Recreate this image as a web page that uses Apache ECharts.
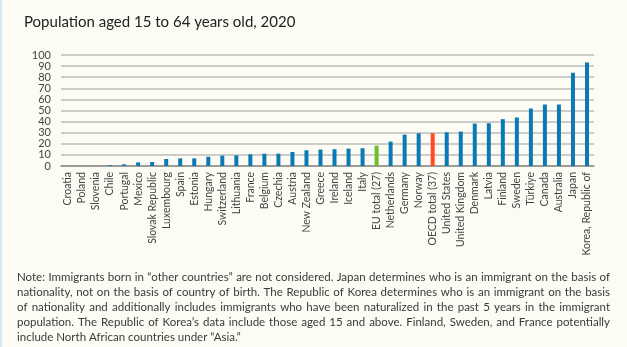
<!DOCTYPE html>
<html>
<head>
<meta charset="utf-8">
<script src="https://cdn.jsdelivr.net/npm/echarts@6/dist/echarts.min.js"></script>
<style>
  html, body { margin: 0; padding: 0; background: #fcfcf5; }
  #chart { width: 627px; height: 347px; border-left: 2px solid #d3e9f1; box-sizing: border-box; }
</style>
</head>
<body>
<div id="chart"></div>
<script>
// Share of foreign-born population aged 15-64, 2020 (%)
const countries = [
  'Croatia', 'Poland', 'Slovenia', 'Chile', 'Portugal', 'Mexico', 'Slovak Republic',
  'Luxembourg', 'Spain', 'Estonia', 'Hungary', 'Switzerland', 'Lithuania', 'France',
  'Belgium', 'Czechia', 'Austria', 'New Zealand', 'Greece', 'Ireland', 'Iceland', 'Italy',
  'EU total (27)', 'Netherlands', 'Germany', 'Norway', 'OECD total (37)', 'United States',
  'United Kingdom', 'Denmark', 'Latvia', 'Finland', 'Sweden', 'Türkiye', 'Canada',
  'Australia', 'Japan', 'Korea, Republic of'
];
const values = [
  0, 0, 0, 0.7, 1.5, 3.3, 3.6,
  6.3, 6.9, 6.9, 8.4, 9.3, 9.6, 10.5,
  11.1, 11.1, 12.6, 14.2, 14.8, 15.1, 15.7, 16.0,
  18.4, 22.0, 28.3, 29.5, 29.5, 30.4,
  31.0, 38.2, 38.5, 42.2, 43.7, 51.8, 55.4,
  55.4, 84.0, 93.3
];
const highlightColors = { 'EU total (27)': '#6cc02c', 'OECD total (37)': '#ff4b1f' };
const yTicks = [0, 10, 20, 30, 40, 50, 60, 70, 80, 90, 100];

const titleText = 'Population aged 15 to 64 years old, 2020';
const noteLines = [
  'Note: Immigrants born in \u201cother countries\u201d are not considered. Japan determines who is an immigrant on the basis of',
  'nationality, not on the basis of country of birth. The Republic of Korea determines who is an immigrant on the basis',
  'of nationality and additionally includes immigrants who have been naturalized in the past 5 years in the immigrant',
  'population. The Republic of Korea\u2019s data include those aged 15 and above. Finland, Sweden, and France potentially',
  'include North African countries under \u201cAsia.\u201d'
];

const FONT = 'Lato, "Open Sans", sans-serif';
const noteFontSize = 11.5;
const noteLeft = 15, noteRight = 608, noteTop = 271, noteLineGap = 15;

// Justify the note: measure each word and spread the remaining space
const measureCtx = document.createElement('canvas').getContext('2d');
measureCtx.font = noteFontSize + 'px ' + FONT;
const noteElements = [];
noteLines.forEach((line, li) => {
  const y = noteTop + li * noteLineGap;
  const words = line.split(' ');
  const isLast = li === noteLines.length - 1;
  const widths = words.map(w => measureCtx.measureText(w).width);
  const total = widths.reduce((a, b) => a + b, 0);
  const gap = isLast ? measureCtx.measureText(' ').width
                     : (noteRight - noteLeft - total) / (words.length - 1);
  let x = noteLeft;
  words.forEach((w, wi) => {
    noteElements.push({
      type: 'text', x: x, y: y,
      style: { text: w, font: noteFontSize + 'px ' + FONT, fill: '#3a3a3a', textVerticalAlign: 'top' }
    });
    x += widths[wi] + gap;
  });
});

const chart = echarts.init(document.getElementById('chart'), null, { renderer: 'canvas' });
chart.setOption({
  backgroundColor: '#fcfcf5',
  animation: false,
  title: {
    text: titleText, left: 17, top: 10,
    textStyle: { fontFamily: FONT, fontSize: 15, fontWeight: 'normal', color: '#222' }
  },
  grid: { left: 59, right: 33, top: 55, bottom: 181 },
  xAxis: {
    type: 'category', data: countries,
    axisLine: { lineStyle: { color: '#8c8c8c', width: 1.5 } },
    axisTick: { show: false },
    axisLabel: { rotate: 90, interval: 0, fontFamily: FONT, fontSize: 10.5, color: '#444', margin: 6 }
  },
  yAxis: {
    type: 'value', min: 0, max: 100, interval: 10,
    axisLine: { show: false }, axisTick: { show: false },
    axisLabel: { fontFamily: FONT, fontSize: 11, color: '#444', margin: 10,
      formatter: v => yTicks.includes(v) ? String(v) : '' },
    splitLine: { lineStyle: { color: '#bdbdbd', width: 1.5 } }
  },
  series: [{
    type: 'bar', barWidth: 4,
    data: values.map((v, i) => ({
      value: v,
      itemStyle: { color: highlightColors[countries[i]] || '#0a79b5' }
    }))
  }],
  graphic: noteElements
});
</script>
</body>
</html>
